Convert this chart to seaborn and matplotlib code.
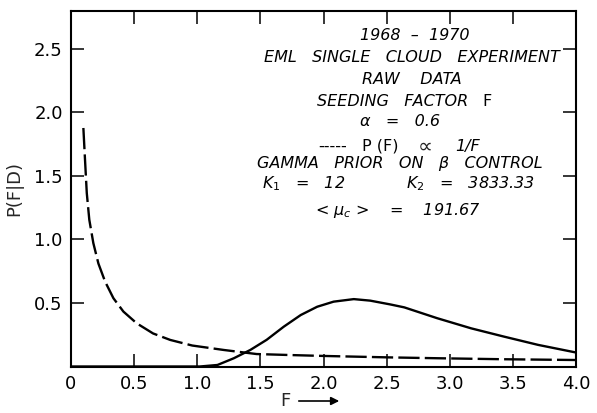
import matplotlib
matplotlib.use("Agg")
import matplotlib.pyplot as plt
import seaborn as sns
import pandas as pd

# Posterior with gamma prior (solid)
f_solid = [0.0, 0.5, 0.9, 1.02, 1.16, 1.29, 1.42, 1.55, 1.685, 1.82, 1.95, 2.08, 2.24, 2.37,
           2.53, 2.64, 2.9, 3.17, 3.43, 3.70, 4.0]
p_solid = [0.0, 0.0, 0.0, 0.0, 0.012, 0.065, 0.13, 0.21, 0.313, 0.405, 0.47, 0.51, 0.53, 0.518,
           0.488, 0.465, 0.38, 0.30, 0.235, 0.17, 0.11]

# Prior P(F) ~ 1/F (dashed)
f_dash = [0.098, 0.111, 0.125, 0.145, 0.177, 0.217, 0.27, 0.336, 0.415, 0.52, 0.65, 0.786,
          0.96, 1.21, 1.47, 1.74, 2.0, 2.5, 2.9, 3.43, 4.0]
p_dash = [1.876, 1.626, 1.364, 1.154, 0.97, 0.81, 0.668, 0.537, 0.432, 0.34, 0.26, 0.209,
          0.165, 0.13, 0.098, 0.09, 0.083, 0.072, 0.065, 0.057, 0.051]

x_ticks = [0, 0.5, 1.0, 1.5, 2.0, 2.5, 3.0, 3.5, 4.0]
x_labels = ["0", "0.5", "1.0", "1.5", "2.0", "2.5", "3.0", "3.5", "4.0"]
y_ticks = [0.5, 1.0, 1.5, 2.0, 2.5]
y_labels = ["0.5", "1.0", "1.5", "2.0", "2.5"]

sns.set_style("ticks")
plt.rcParams['font.family'] = ['DejaVu Sans']
plt.rcParams['mathtext.fontset'] = 'dejavusans'

fig = plt.figure(figsize=(5.97, 4.13), dpi=100)
W, H = 597, 413
ax = fig.add_axes([71 / W, 1 - 366.5 / H, (576 - 71) / W, (366.5 - 10.5) / H])

df_s = pd.DataFrame({"F": f_solid, "P": p_solid})
df_d = pd.DataFrame({"F": f_dash, "P": p_dash})
sns.lineplot(data=df_s, x="F", y="P", ax=ax, color="black", lw=1.7, sort=False)
sns.lineplot(data=df_d, x="F", y="P", ax=ax, color="black", lw=1.7, sort=False)
ax.lines[-1].set_dashes([9, 2.2])

ax.set_xlim(0, 4.0)
ax.set_ylim(0, 2.8)
ax.set_xticks(x_ticks)
ax.set_xticklabels(x_labels)
ax.set_yticks(y_ticks)
ax.set_yticklabels(y_labels)
ax.tick_params(direction="in", length=9.5, width=1.1, top=True, right=True,
               labelsize=13, colors="black", pad=6)
for s in ax.spines.values():
    s.set_linewidth(1.5)
    s.set_color("black")
ax.set_xlabel("")
ax.set_ylabel("P(F|D)", fontsize=13, labelpad=8)


def px(x, y):
    return x / W, 1 - y / H


FS = 11.5
it = dict(va="center", fontsize=FS, style="italic", color="black")
up = dict(va="center", fontsize=FS, style="normal", color="black")
lines = [
    (415, 35, "1968  –  1970"),
    (412, 58, "EML   SINGLE   CLOUD   EXPERIMENT"),
    (412, 79, "RAW    DATA"),
    (400, 122, "α   =   0.6"),
    (400, 164, "GAMMA   PRIOR   ON   β   CONTROL"),
]
for x, y, s in lines:
    fig.text(*px(x, y), s, ha="center", **it)

fig.text(*px(262, 184), "$K_1$   =   12", ha="left", **it)
fig.text(*px(535, 184), "$K_2$   =   3833.33", ha="right", **it)
fig.text(*px(398, 210), "< $\\mu_c$ >    =    191.67", ha="center", **it)

# mixed italic / upright lines
fig.text(*px(468, 101), "SEEDING   FACTOR", ha="right", **it)
fig.text(*px(482, 101), "F", ha="left", **up)
fig.text(*px(318, 146), "-----", ha="left", **up)
fig.text(*px(362, 146), "P (F)", ha="left", **up)
fig.text(*px(418, 147), "∝", ha="left", va="center", fontsize=15, style="italic")
fig.text(*px(455, 146), "1/F", ha="left", **it)

# x label: F with arrow
fig.text(*px(285, 401), "F", ha="center", va="center", fontsize=13)
ax.annotate("", xy=px(342, 401), xytext=px(296, 401), xycoords="figure fraction",
            textcoords="figure fraction",
            arrowprops=dict(arrowstyle="-|>", color="black", lw=1.2, mutation_scale=12))

fig.savefig("out.png", dpi=100)
